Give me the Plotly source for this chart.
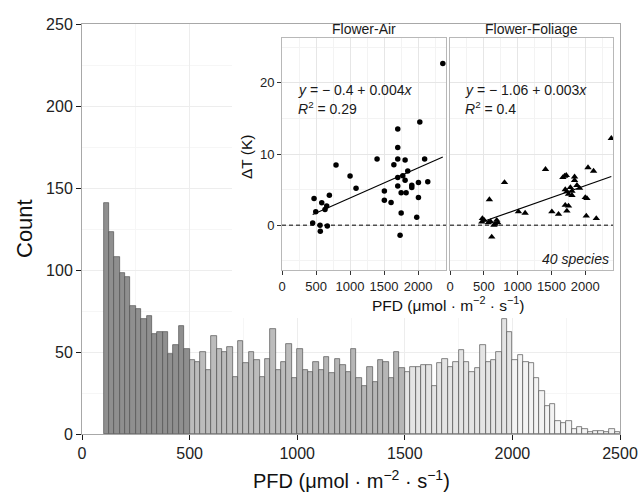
import numpy as np
import plotly.graph_objects as go

# ---------------- data ----------------
# main histogram (PFD, bins of 25 starting at 100)
bin_start = 100
bin_width = 25
counts = [141, 123, 108, 98, 96, 78, 76, 70, 72, 61, 62, 62, 49, 54, 66, 52,
          45, 44, 50, 39, 60, 52, 50, 53, 35, 57, 43, 50, 45, 35, 46, 64, 39, 44, 55, 34,
          52, 39, 38, 44, 39, 47, 37, 46, 42, 38, 52, 34, 29, 41, 32, 45, 44, 34, 50, 40,
          38, 41, 41, 42, 42, 29, 43, 46, 41, 44, 51, 44, 38, 40, 54, 44, 45, 50, 70, 62,
          45, 48, 44, 43, 34, 26, 17, 18, 8, 7, 8, 3, 4, 3, 1, 2, 2, 1, 3, 1]
group_edges = [100, 500, 1000, 1500, 2000, 2500]
group_colors = ["#8f8f8f", "#bcbcbc", "#b6b6b6", "#e4e4e4", "#f3f3f3"]

# inset: Flower-Air
air_pfd = [2363, 2025, 1701, 1701, 1397, 1701, 1809, 2096, 794, 1644,
           1000, 1848, 1775, 1088, 1701, 1809, 1907, 1907, 2005, 2142,
           1701, 1504, 1751, 1824, 1504, 1603, 2005, 1751, 1980, 1735,
           696, 471, 584, 632, 657, 496, 451, 559, 666, 563]
air_dt = [22.7, 14.5, 13.5, 10.9, 9.3, 9.3, 9.15, 9.3, 8.45, 8.5,
          6.9, 7.6, 6.95, 5.2, 6.7, 6.3, 5.6, 5.3, 6.0, 6.1,
          5.5, 4.8, 4.55, 4.55, 3.5, 3.2, 3.9, 1.7, 1.1, -1.4,
          4.2, 3.75, 3.15, 2.2, 2.7, 1.9, 0.3, 0.0, -0.1, -0.85]
# inset: Flower-Foliage
fol_pfd = [2385, 1412, 2040, 2123, 1719, 1694, 1842, 1669, 1842, 806,
           1877, 1916, 1704, 1728, 1803, 1752, 1803, 2000, 2025, 582,
           1704, 1752, 1728, 1012, 1111, 1506, 1605, 2015, 2163, 617,
           479, 504, 470, 567, 600, 667, 691, 706, 650, 1780]
fol_dt = [12.2, 7.85, 8.1, 7.6, 7.0, 6.9, 6.8, 6.7, 6.3, 6.0,
          5.6, 5.2, 5.0, 4.7, 4.8, 4.35, 4.2, 3.9, 3.75, 3.6,
          2.8, 2.7, 2.0, 1.9, 1.7, 1.9, 1.55, 1.3, 0.95, -1.65,
          0.95, 0.7, 0.45, 0.35, 0.5, 0.15, 0.7, 0.35, 0.0, 5.3]

panel_titles = ["Flower-Air", "Flower-Foliage"]
eq_texts = ["<i>y</i> = − 0.4 + 0.004<i>x</i>", "<i>y</i> = − 1.06 + 0.003<i>x</i>"]
r2_texts = ["<i>R</i><sup>2</sup> = 0.29", "<i>R</i><sup>2</sup> = 0.4"]
species_text = "<i>40 species</i>"
main_xticks = [0, 500, 1000, 1500, 2000, 2500]
main_yticks = [0, 50, 100, 150, 200, 250]
inset_xticks = [0, 500, 1000, 1500, 2000]
inset_yticks = [0, 10, 20]
pfd_title = "PFD (μmol · m<sup>−2</sup> · s<sup>−1</sup>)"

# ---------------- layout helpers ----------------
W, H = 641, 496
L, R, T, B = 82, 21, 24, 62
FONT = "Liberation Sans, Arial, Helvetica, sans-serif"


def px_x(px):
    return (px - L) / (W - L - R)


def px_y(py):
    return (H - B - py) / (H - T - B)


fig = go.Figure()

# histogram bars
lefts = bin_start + bin_width * np.arange(len(counts))
centers = lefts + bin_width / 2
bar_colors = [group_colors[int(np.searchsorted(group_edges, lf, side="right")) - 1] for lf in lefts]
fig.add_trace(go.Bar(x=centers, y=counts, width=bin_width,
                     marker=dict(color=bar_colors, line=dict(color="#505050", width=0.7)),
                     xaxis="x", yaxis="y", showlegend=False, hoverinfo="skip"))

# inset scatter + fits
for xs, ys, sym, size, xa, ya in [(air_pfd, air_dt, "circle", 5.5, "x2", "y2"),
                                  (fol_pfd, fol_dt, "triangle-up", 6.5, "x3", "y3")]:
    fig.add_trace(go.Scatter(x=xs, y=ys, mode="markers", xaxis=xa, yaxis=ya,
                             marker=dict(symbol=sym, size=size, color="black", line=dict(width=0)),
                             showlegend=False))
    slope, intercept = np.polyfit(xs, ys, 1)
    lx = np.array([min(xs), max(xs)])
    fig.add_trace(go.Scatter(x=lx, y=intercept + slope * lx, mode="lines", xaxis=xa, yaxis=ya,
                             line=dict(color="black", width=1.1), showlegend=False))

main_axis_common = dict(ticks="outside", ticklen=5, tickwidth=1, tickcolor="#1a1a1a",
                        showline=True, linecolor="#a8a8a8", linewidth=1, mirror=True,
                        showgrid=True, gridcolor="#ededed", gridwidth=1, zeroline=False,
                        tickfont=dict(size=16, color="#222222", family=FONT))

inset_x_common = dict(range=[0, 2410], tickvals=inset_xticks, ticks="outside", ticklen=4,
                      tickcolor="#333333", showline=True, linecolor="#b8b8b8", mirror=True,
                      showgrid=True, gridcolor="#e6e6e6", zeroline=False,
                      minor=dict(dtick=250, showgrid=True, gridcolor="#f3f3f3", ticks=""),
                      tickfont=dict(size=13, color="#222222", family=FONT))
inset_y_common = dict(range=[-6.3, 26.3], tickvals=inset_yticks, showline=True,
                      linecolor="#b8b8b8", mirror=True, showgrid=True, gridcolor="#e6e6e6",
                      zeroline=False,
                      minor=dict(dtick=5, showgrid=True, gridcolor="#f3f3f3", ticks=""),
                      domain=[px_y(270), px_y(38)])

fig.update_layout(
    width=W, height=H,
    margin=dict(l=L, r=R, t=T, b=B, autoexpand=False),
    paper_bgcolor="white", plot_bgcolor="white",
    bargap=0,
    font=dict(family=FONT, color="#222222"),
    xaxis=dict(domain=[0, 1], range=[0, 2500], tickvals=main_xticks, anchor="y",
               minor=dict(dtick=250, showgrid=True, gridcolor="#f6f6f6", ticks=""),
               **main_axis_common),
    yaxis=dict(domain=[0, 1], range=[0, 250], tickvals=main_yticks, anchor="x",
               minor=dict(dtick=25, showgrid=True, gridcolor="#f6f6f6", ticks=""),
               **main_axis_common),
    xaxis2=dict(domain=[px_x(282), px_x(446)], anchor="y2", **inset_x_common),
    yaxis2=dict(anchor="x2", ticks="outside", ticklen=4, tickcolor="#333333",
                tickfont=dict(size=13, color="#222222", family=FONT), **inset_y_common),
    xaxis3=dict(domain=[px_x(450), px_x(613)], anchor="y3", **inset_x_common),
    yaxis3=dict(anchor="x3", ticks="", showticklabels=False, **inset_y_common),
)

shapes = [
    # white background of the inset region (between main grid and bars)
    dict(type="rect", xref="x", yref="y", x0=697, x1=2500, y0=70.7, y1=250,
         fillcolor="white", line=dict(width=0), layer="between"),
]
for xa, ya in [("x2", "y2"), ("x3", "y3")]:
    shapes.append(dict(type="line", xref=xa + " domain", yref=ya, x0=0, x1=1, y0=0, y1=0,
                       line=dict(color="black", width=1, dash="4px,3px")))
fig.update_layout(shapes=shapes)

ann = []
# strip titles
for title, (a, b) in zip(panel_titles, [(282, 446), (450, 613)]):
    ann.append(dict(text=title, x=px_x((a + b) / 2), y=px_y(29), xref="paper", yref="paper",
                    showarrow=False, xanchor="center", yanchor="middle",
                    font=dict(size=14, color="#1a1a1a")))
# equations
for eq, r2, left in zip(eq_texts, r2_texts, [296, 463]):
    ann.append(dict(text=eq, x=px_x(left), y=px_y(90), xref="paper", yref="paper",
                    showarrow=False, xanchor="left", yanchor="middle",
                    font=dict(size=14, color="#1a1a1a")))
    ann.append(dict(text=r2, x=px_x(left), y=px_y(108), xref="paper", yref="paper",
                    showarrow=False, xanchor="left", yanchor="middle",
                    font=dict(size=14, color="#1a1a1a")))
ann.append(dict(text=species_text, x=px_x(611), y=px_y(259), xref="paper", yref="paper",
                showarrow=False, xanchor="right", yanchor="middle",
                font=dict(size=14, color="#1a1a1a")))
# inset axis titles
ann.append(dict(text=pfd_title, x=px_x(448), y=px_y(304), xref="paper", yref="paper",
                showarrow=False, xanchor="center", yanchor="middle",
                font=dict(size=15.5, color="#111111")))
ann.append(dict(text="ΔT (K)", x=px_x(247), y=px_y(157), xref="paper", yref="paper",
                showarrow=False, xanchor="center", yanchor="middle", textangle=-90,
                font=dict(size=15.5, color="#111111")))
# main axis titles
ann.append(dict(text=pfd_title, x=px_x(351), y=px_y(479), xref="paper", yref="paper",
                showarrow=False, xanchor="center", yanchor="middle",
                font=dict(size=20, color="#111111")))
ann.append(dict(text="Count", x=px_x(24), y=px_y(229), xref="paper", yref="paper",
                showarrow=False, xanchor="center", yanchor="middle", textangle=-90,
                font=dict(size=22, color="#111111")))
fig.update_layout(annotations=ann)

fig.write_html("out.html", config={"displayModeBar": False},
               post_script="document.body.style.margin='0px';document.body.style.overflow='hidden';")
